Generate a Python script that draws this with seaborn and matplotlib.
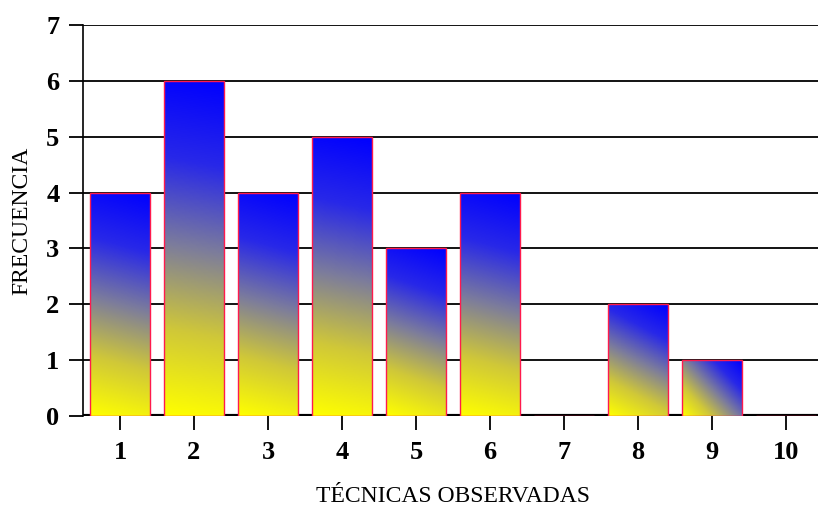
import numpy as np
import pandas as pd
import matplotlib
matplotlib.use('Agg')
import matplotlib.pyplot as plt
import seaborn as sns
from matplotlib.colors import LinearSegmentedColormap

# Data
tecnicas = ['1', '2', '3', '4', '5', '6', '7', '8', '9', '10']
frecuencia = [4, 6, 4, 5, 3, 4, 0, 2, 1, 0]

df = pd.DataFrame({'tecnica': tecnicas, 'frecuencia': frecuencia})

sns.set_style('white')
plt.rcParams['font.family'] = ['Liberation Serif', 'DejaVu Serif']
plt.rcParams['text.color'] = 'black'
plt.rcParams['axes.labelcolor'] = 'black'
plt.rcParams['xtick.color'] = 'black'
plt.rcParams['ytick.color'] = 'black'

fig = plt.figure(figsize=(8.18, 5.12), dpi=100)
ax = fig.add_axes([83 / 818, 96 / 512, 740 / 818, 391 / 512])

sns.barplot(data=df, x='tecnica', y='frecuencia', order=tecnicas, ax=ax,
            width=0.8, color='white', edgecolor='#ff1a4d', linewidth=1.0,
            zorder=3)

ax.set_xlim(-0.5, 9.5)
ax.set_ylim(0, 7)

# yellow (bottom-left) -> blue (top-right) gradient inside each bar
cmap = LinearSegmentedColormap.from_list(
    'yb', ['#ffff00', '#d0c838', '#7c7c9c', '#2828e8', '#0000ff'])
fig.canvas.draw()
for bar in ax.patches:
    x0, y0 = bar.get_x(), bar.get_y()
    w, h = bar.get_width(), bar.get_height()
    if h <= 0:
        continue
    # pixel size, so the gradient runs along the bar's diagonal
    p0 = ax.transData.transform((x0, y0))
    p1 = ax.transData.transform((x0 + w, y0 + h))
    W, H = p1[0] - p0[0], p1[1] - p0[1]
    u, v = np.meshgrid(np.linspace(0, 1, 100), np.linspace(0, 1, 200))
    t = (u * W * W + v * H * H) / (W * W + H * H)
    im = ax.imshow(t, cmap=cmap, vmin=0, vmax=1, origin='lower', aspect='auto',
                   extent=(x0, x0 + w, y0, y0 + h), zorder=2.5, interpolation='bilinear')
    im.set_clip_path(bar)
    bar.set_facecolor('none')

ax.set_xlim(-0.5, 9.5)
ax.set_ylim(0, 7)

# horizontal grid lines
for yv in range(1, 8):
    ax.axhline(yv, color='black', lw=1.3, zorder=1)
ax.axhline(0, color='black', lw=3, zorder=2)

sns.despine(ax=ax, top=True, right=True, bottom=True)
ax.spines['left'].set_color('black')
ax.spines['left'].set_linewidth(1.2)

ax.set_yticks(range(0, 8))
ax.tick_params(axis='y', direction='out', length=10, width=1.3, color='black',
               labelsize=19, pad=7, left=True)
ax.tick_params(axis='x', direction='out', length=10, width=1.3, color='black',
               labelsize=19, pad=8, bottom=True)
for lab in ax.get_xticklabels() + ax.get_yticklabels():
    lab.set_fontweight('bold')

ax.set_xlabel('TÉCNICAS OBSERVADAS', fontsize=17, labelpad=16)
ax.set_ylabel('FRECUENCIA', fontsize=17, labelpad=10)

fig.savefig('out.png', dpi=100)
